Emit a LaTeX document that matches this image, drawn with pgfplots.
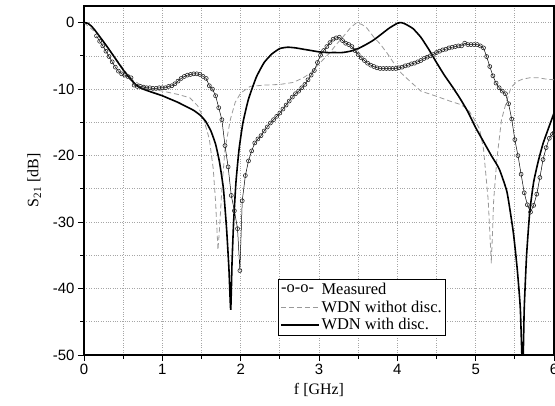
\documentclass[border=0pt]{standalone}
\usepackage{fontspec}
\setmainfont{Liberation Serif}
\newfontfamily\arialf{Liberation Sans}
\usepackage{pgfplots}
\pgfplotsset{compat=1.18}

\pgfplotstableread{
f s
0.16 -2.0
0.20 -2.8
0.24 -3.5
0.28 -4.3
0.32 -5.1
0.36 -5.9
0.40 -6.7
0.44 -7.3
0.48 -7.7
0.52 -7.9
0.56 -8.1
0.60 -8.3
0.64 -9.4
0.68 -9.6
0.72 -9.6
0.76 -9.7
0.80 -9.8
0.84 -9.8
0.88 -9.9
0.92 -9.9
0.96 -9.8
1.00 -9.8
1.04 -9.8
1.08 -9.6
1.12 -9.5
1.16 -9.2
1.20 -8.8
1.24 -8.4
1.28 -8.1
1.32 -7.9
1.36 -7.8
1.40 -7.7
1.44 -7.7
1.48 -7.8
1.52 -8.1
1.56 -8.4
1.60 -9.5
1.64 -10.0
1.68 -11.0
1.72 -12.8
1.76 -14.6
1.80 -18.5
1.84 -21.7
1.88 -26.0
1.92 -28.3
1.96 -31.0
1.99 -37.3
2.02 -26.8
2.06 -23.0
2.10 -20.8
2.14 -19.3
2.18 -18.1
2.22 -17.5
2.26 -17.0
2.30 -16.3
2.34 -15.7
2.38 -15.1
2.42 -14.6
2.46 -14.1
2.50 -13.6
2.54 -13.0
2.58 -12.4
2.62 -11.8
2.66 -11.2
2.70 -10.7
2.74 -10.3
2.78 -9.8
2.82 -9.3
2.86 -8.6
2.90 -7.9
2.94 -7.2
2.98 -6.0
3.02 -4.9
3.06 -4.2
3.10 -3.6
3.14 -3.0
3.18 -2.5
3.22 -2.3
3.26 -2.2
3.30 -2.7
3.34 -3.1
3.38 -3.3
3.42 -3.6
3.46 -4.2
3.50 -4.8
3.54 -5.3
3.58 -5.7
3.62 -6.1
3.66 -6.4
3.70 -6.6
3.74 -6.8
3.78 -6.9
3.82 -6.9
3.86 -6.9
3.90 -6.9
3.94 -6.9
3.98 -6.9
4.02 -6.8
4.06 -6.7
4.10 -6.5
4.14 -6.4
4.18 -6.2
4.22 -6.1
4.26 -5.9
4.30 -5.7
4.34 -5.4
4.38 -5.2
4.42 -5.0
4.46 -4.8
4.50 -4.5
4.54 -4.3
4.58 -4.1
4.62 -4.0
4.66 -3.8
4.70 -3.7
4.74 -3.6
4.78 -3.5
4.82 -3.5
4.86 -3.1
4.90 -3.3
4.94 -3.3
4.98 -3.3
5.02 -3.3
5.06 -3.5
5.10 -3.8
5.14 -5.1
5.18 -6.6
5.22 -8.0
5.26 -9.1
5.30 -9.8
5.34 -10.3
5.38 -10.7
5.42 -12.2
5.46 -14.5
5.50 -17.6
5.54 -20.0
5.58 -22.8
5.62 -25.6
5.66 -27.4
5.70 -28.5
5.74 -27.5
5.78 -25.8
5.82 -23.3
5.86 -20.6
5.90 -18.8
5.94 -17.4
5.98 -16.8
6.00 -16.6
}\measured

\pgfplotstableread{
f s
0.00 0.0
0.20 -2.0
0.40 -5.3
0.60 -8.5
0.80 -9.9
1.00 -10.3
1.20 -10.8
1.35 -11.3
1.45 -12.5
1.52 -14.2
1.60 -17.5
1.65 -22.0
1.68 -27.0
1.71 -34.2
1.73 -31.0
1.76 -25.0
1.80 -19.0
1.87 -14.5
1.93 -12.0
2.00 -10.6
2.12 -9.6
2.30 -9.4
2.50 -9.3
2.67 -9.0
2.80 -8.3
2.90 -7.5
2.97 -6.6
3.05 -5.6
3.14 -4.5
3.22 -3.3
3.31 -2.1
3.40 -0.8
3.48 0.0
3.55 -0.3
3.61 -0.8
3.70 -2.2
3.78 -3.2
3.87 -4.6
3.95 -6.0
4.05 -7.6
4.15 -8.7
4.30 -10.3
4.48 -11.0
4.67 -11.8
4.80 -12.3
4.90 -13.0
4.97 -14.3
5.05 -16.0
5.10 -19.0
5.16 -26.7
5.20 -36.2
5.23 -26.7
5.27 -20.6
5.33 -14.6
5.39 -12.0
5.45 -9.8
5.52 -8.9
5.60 -8.5
5.69 -8.3
5.80 -8.3
5.90 -8.5
6.00 -8.6
}\nodisc

\pgfplotstableread{
f s
0.00 0.0
0.05 -0.1
0.10 -0.6
0.15 -1.3
0.20 -2.1
0.30 -3.7
0.40 -5.4
0.50 -7.1
0.60 -8.6
0.70 -9.7
0.80 -10.2
0.90 -10.6
1.00 -11.0
1.10 -11.5
1.20 -12.0
1.30 -12.6
1.40 -13.2
1.48 -13.9
1.55 -14.8
1.62 -16.3
1.68 -18.3
1.73 -21.0
1.78 -25.0
1.82 -31.0
1.85 -37.0
1.873 -43.2
1.89 -36.0
1.91 -30.0
1.94 -24.0
1.98 -19.0
2.03 -15.0
2.10 -11.5
2.20 -8.2
2.30 -6.0
2.40 -4.7
2.50 -3.9
2.60 -3.7
2.70 -3.8
2.80 -4.0
2.90 -4.2
3.00 -4.4
3.10 -4.5
3.20 -4.5
3.30 -4.5
3.40 -4.3
3.50 -3.9
3.60 -3.3
3.70 -2.6
3.80 -1.7
3.90 -0.8
4.00 -0.1
4.05 0.0
4.10 -0.2
4.20 -0.9
4.30 -2.2
4.40 -4.0
4.50 -6.0
4.60 -7.9
4.70 -9.6
4.80 -11.4
4.90 -13.4
5.00 -15.8
5.10 -17.9
5.20 -20.0
5.30 -22.0
5.40 -25.5
5.48 -31.5
5.53 -37.0
5.57 -43.0
5.60 -53.0
5.62 -43.0
5.65 -35.0
5.69 -28.5
5.74 -24.0
5.80 -20.8
5.86 -18.2
5.92 -16.2
6.00 -13.6
}\withdisc

\begin{document}
\begin{tikzpicture}
\begin{axis}[
    scale only axis,
    width=470bp, height=349bp,
    xmin=0, xmax=6,
    ymin=-50, ymax=2.5,
    xtick={0,1,...,6},
    ytick={-50,-40,...,0},
    minor x tick num=1,
    minor y tick num=1,
    tick align=outside,
    xtick pos=left, ytick pos=left,
    major tick length=6bp,
    minor tick length=3.5bp,
    axis line style={line width=1.2pt},
    every tick/.style={line width=1pt, black},
    grid=both,
    major grid style={dotted, line width=0.7pt, black!35},
    minor grid style={dotted, line width=0.7pt, black!35},
    /pgf/number format/assume math mode=true,
    tick label style={font=\arialf\fontsize{15}{17}\selectfont},
    xlabel={f [GHz]},
    ylabel={S\textsubscript{21} [dB]},
    label style={font=\fontsize{16}{18}\selectfont},
    xlabel style={yshift=-1bp},
    ylabel style={yshift=5bp},
    legend cell align=left,
    legend style={at={(0.413,0.218)}, anchor=north west,
        font=\fontsize{16.5}{19}\selectfont, draw=black, line width=0.8pt,
        inner sep=1.5bp, row sep=1bp},
]
\addlegendimage{legend image code/.code={\node[inner sep=0pt, anchor=west, font=\fontsize{16.5}{19}\selectfont] at (0bp,0bp) {-o-o-};}}
\addlegendentry{Measured}
\addlegendimage{legend image code/.code={\draw[gray!80, line width=0.8pt, dash pattern=on 5bp off 3bp] (0bp,0bp) -- (38bp,0bp);}}
\addlegendentry{WDN withot disc.}
\addlegendimage{legend image code/.code={\draw[black, line width=1.6pt] (0bp,0bp) -- (38bp,0bp);}}
\addlegendentry{WDN with disc.}

\addplot[forget plot, gray!80, line width=0.8pt, dash pattern=on 5bp off 3bp] table[x=f, y=s] {\nodisc};
\addplot[forget plot, black, line width=1.6pt, smooth, tension=0.3] table[x=f, y=s] {\withdisc};
\addplot[forget plot, black, line width=0.5pt, mark=o, mark size=2bp,
    mark options={solid, line width=0.6pt, draw=black!85}] table[x=f, y=s] {\measured};
\end{axis}
\pgfresetboundingbox
\useasboundingbox (-84bp,-51bp) rectangle (471bp,355bp);
\end{tikzpicture}
\end{document}
